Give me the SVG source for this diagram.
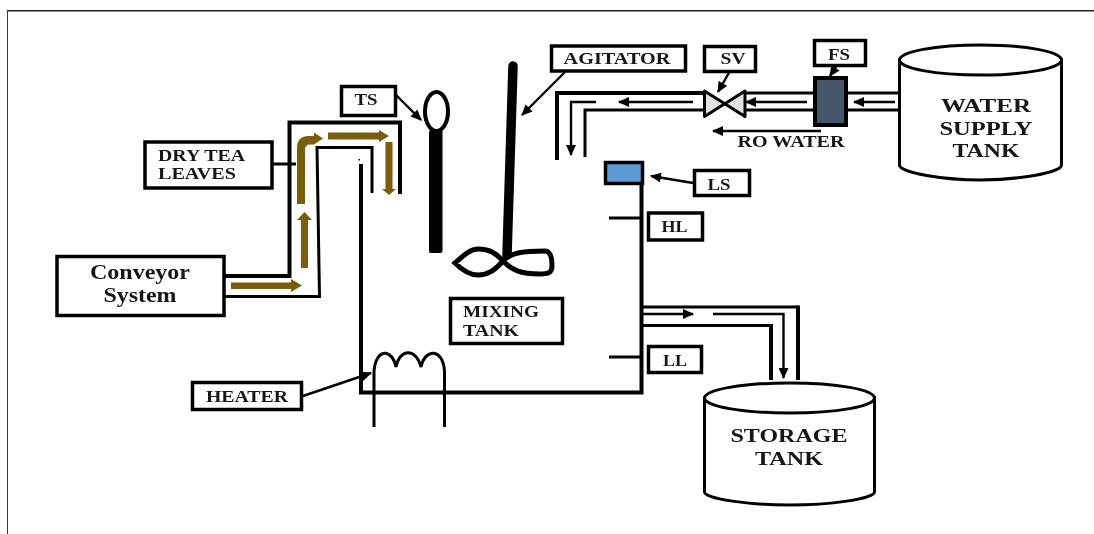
<svg xmlns="http://www.w3.org/2000/svg" width="1094" height="534" viewBox="0 0 1094 534">
<style>
.box{fill:#fff;stroke:#000;stroke-width:3.5}
.t{font-family:"Liberation Serif","Times New Roman",serif;font-weight:700;fill:#141414;font-size:16px}
.m{text-anchor:middle}
.l{fill:none;stroke:#000;stroke-width:4}
.n{fill:none;stroke:#000;stroke-width:3}
.a{fill:none;stroke:#000;stroke-width:2.4;marker-end:url(#h)}
.tank{fill:#fff;stroke:#000;stroke-width:3}
.b{fill:#7b5b07}
.big{font-size:19px}
</style>
<defs>
<marker id="h" markerUnits="userSpaceOnUse" markerWidth="12" markerHeight="10" refX="10" refY="5" orient="auto"><path d="M0 0L11 5L0 10Z" fill="#000"/></marker>
<filter id="soft" x="0" y="0" width="100%" height="100%"><feGaussianBlur stdDeviation="0.45"/></filter>
</defs>
<rect width="1094" height="534" fill="#fff"/>
<g filter="url(#soft)">
<path id="frame" d="M7 534V10.500H1094" fill="none" stroke="#222" stroke-width="1.800"/>

<g id="connectors">
<path class="l" d="M224 276H289.500V122.500H400V194"/>
<path class="n" d="M224 296.500H319.500L317 147.500H372V193"/>
<path class="n" d="M273 164H296"/>
<path class="a" d="M396 95L421 120"/>
<path class="a" d="M565 72L522 115"/>
<path class="a" d="M730 71L718 92"/>
<path class="a" d="M836 67L830 76"/>
<path class="a" d="M693 183L651 176"/>
<path class="a" d="M303 396L371 373"/>
<path class="l" d="M557 160V93H705"/>
<path class="n" d="M585 157V110H705"/>
<path class="a" d="M596 102H571V155"/>
<path class="a" d="M693 102H619"/>
<path class="n" d="M745 93H814M745 110H814M847 93H899M847 110H899"/>
<path class="a" d="M807 102H746"/>
<path class="a" d="M895 102H854"/>
<path class="a" d="M821 131H713"/>
<path class="n" d="M641 307H798"/>
<path class="l" d="M798 305.500V380"/>
<path class="n" d="M641 325.500H771"/>
<path class="l" d="M771 324V380"/>
<path class="a" d="M641 314H693"/>
<path class="a" d="M713 314H783.500V378"/>
<path class="n" d="M609 218H640M609 357H640"/>
</g>

<g id="conveyor-arrows">
<path class="b" d="M231 282.500H291V279L302 285.500L291 292V289H231Z"/>
<path class="b" d="M301 268V220H297L304.500 212L312 220H308V268Z"/>
<path class="b" d="M297 204V148Q297 136 309 136H314V132.500L323 138.500L314 144.500V144.500H310Q305 144.500 305 150V204Z"/>
<path class="b" d="M328 132.500H379V130L389 136L379 142V139.500H328Z"/>
<path class="b" d="M385.500 142H392.500V189H396L389 195L382 189H385.500Z"/>
</g>

<g id="mixing-tank-vessel">
<path d="M361 164V392.500H641.500V183" fill="none" stroke="#000" stroke-width="4"/>
<rect x="358.500" y="159" width="1.500" height="1.500" fill="#000"/>
</g>

<g id="ts-node"><rect class="box" x="341.500" y="86.500" width="54" height="29"/><text class="t m" x="366" y="105" textLength="23" lengthAdjust="spacingAndGlyphs">TS</text></g>
<g id="ts-sensor"><rect x="429" y="130" width="13.500" height="123" rx="2" fill="#000"/><ellipse cx="436.500" cy="111.500" rx="11.500" ry="19.500" fill="#fff" stroke="#000" stroke-width="4"/></g>
<g id="dry-tea-leaves"><rect class="box" x="145" y="142" width="127" height="46"/><text class="t" x="158" y="161" textLength="87" lengthAdjust="spacingAndGlyphs">DRY TEA</text><text class="t" x="158" y="179" textLength="78" lengthAdjust="spacingAndGlyphs">LEAVES</text></g>
<g id="conveyor-system"><rect class="box" x="57" y="256.500" width="167" height="59"/><text class="t m" x="140" y="279" style="font-size:20px" textLength="100" lengthAdjust="spacingAndGlyphs">Conveyor</text><text class="t m" x="140" y="302" style="font-size:20px" textLength="73" lengthAdjust="spacingAndGlyphs">System</text></g>

<g id="agitator-shaft">
<path d="M513 66L507 255" stroke="#000" stroke-width="9.500" stroke-linecap="round" fill="none"/>
<path d="M503 261C495 252 488 249 478 249C470 249 463 256 455 263C463 271 470 275 478 275C488 275 495 270 503 261C510 253 522 251 545 251C552 251 552 262 552 266C552 273 548 274 540 274C520 274 512 270 503 261Z" fill="none" stroke="#000" stroke-width="5"/>
</g>
<g id="agitator"><rect class="box" x="551.500" y="46" width="134" height="25"/><text class="t m" x="617" y="64" textLength="107" lengthAdjust="spacingAndGlyphs">AGITATOR</text></g>

<g id="valve"><path d="M704.500 91V116.500L745 91V116.500Z" fill="#e2e2e2" stroke="#000" stroke-width="3" stroke-linejoin="round"/></g>
<g id="sv"><rect class="box" x="704.500" y="46.500" width="51" height="25"/><text class="t m" x="733" y="64" textLength="25" lengthAdjust="spacingAndGlyphs">SV</text></g>
<g id="fs-sensor"><rect x="815" y="78" width="31" height="47" fill="#44546a" stroke="#000" stroke-width="4"/></g>
<g id="fs"><rect class="box" x="814.500" y="40.500" width="51" height="25"/><text class="t m" x="839" y="60" textLength="22" lengthAdjust="spacingAndGlyphs">FS</text></g>
<g id="water-supply-tank">
<path class="tank" d="M899.500 60V165C899.500 173 945 180 980.500 180C1016 180 1061.500 173 1061.500 165V60Z"/>
<ellipse class="tank" cx="980.500" cy="60" rx="81" ry="15"/>
<text class="t m big" x="986" y="112" textLength="90" lengthAdjust="spacingAndGlyphs">WATER</text>
<text class="t m big" x="986" y="134.500" textLength="93" lengthAdjust="spacingAndGlyphs">SUPPLY</text>
<text class="t m big" x="986" y="157" textLength="67" lengthAdjust="spacingAndGlyphs">TANK</text>
</g>
<text id="ro-water" class="t m" x="791" y="147" textLength="107" lengthAdjust="spacingAndGlyphs">RO WATER</text>

<g id="ls-sensor"><rect x="605.500" y="162.500" width="37" height="21" fill="#5b9bd5" stroke="#000" stroke-width="3.500"/></g>
<g id="ls"><rect class="box" x="694.500" y="170.500" width="55" height="25"/><text class="t m" x="719" y="190" textLength="23" lengthAdjust="spacingAndGlyphs">LS</text></g>
<g id="hl"><rect class="box" x="648.500" y="213" width="54" height="27"/><text class="t m" x="674.500" y="232" textLength="26" lengthAdjust="spacingAndGlyphs">HL</text></g>
<g id="ll"><rect class="box" x="648.500" y="346.500" width="53" height="26"/><text class="t m" x="675" y="366" textLength="24" lengthAdjust="spacingAndGlyphs">LL</text></g>
<g id="mixing-tank"><rect class="box" x="450.500" y="298.500" width="112" height="45"/><text class="t" x="463" y="317" textLength="76" lengthAdjust="spacingAndGlyphs">MIXING</text><text class="t" x="463" y="336" textLength="56" lengthAdjust="spacingAndGlyphs">TANK</text></g>

<g id="heater-coil"><path class="n" d="M374 427V371C376 348 392 348 396 367C400 348 416 348 421 367C425 348 443 348 444.500 371V427"/></g>
<g id="heater"><rect class="box" x="192.500" y="382.500" width="109" height="27"/><text class="t m" x="247" y="402" textLength="82" lengthAdjust="spacingAndGlyphs">HEATER</text></g>

<g id="storage-tank">
<path class="tank" d="M704.500 398V492C704.500 499 750 505 789.500 505C829 505 874.500 499 874.500 492V398Z"/>
<ellipse class="tank" cx="789.500" cy="398" rx="85" ry="15"/>
<text class="t m big" x="789" y="442" textLength="117" lengthAdjust="spacingAndGlyphs">STORAGE</text>
<text class="t m big" x="789" y="464.500" textLength="68" lengthAdjust="spacingAndGlyphs">TANK</text>
</g>
</g>
</svg>
